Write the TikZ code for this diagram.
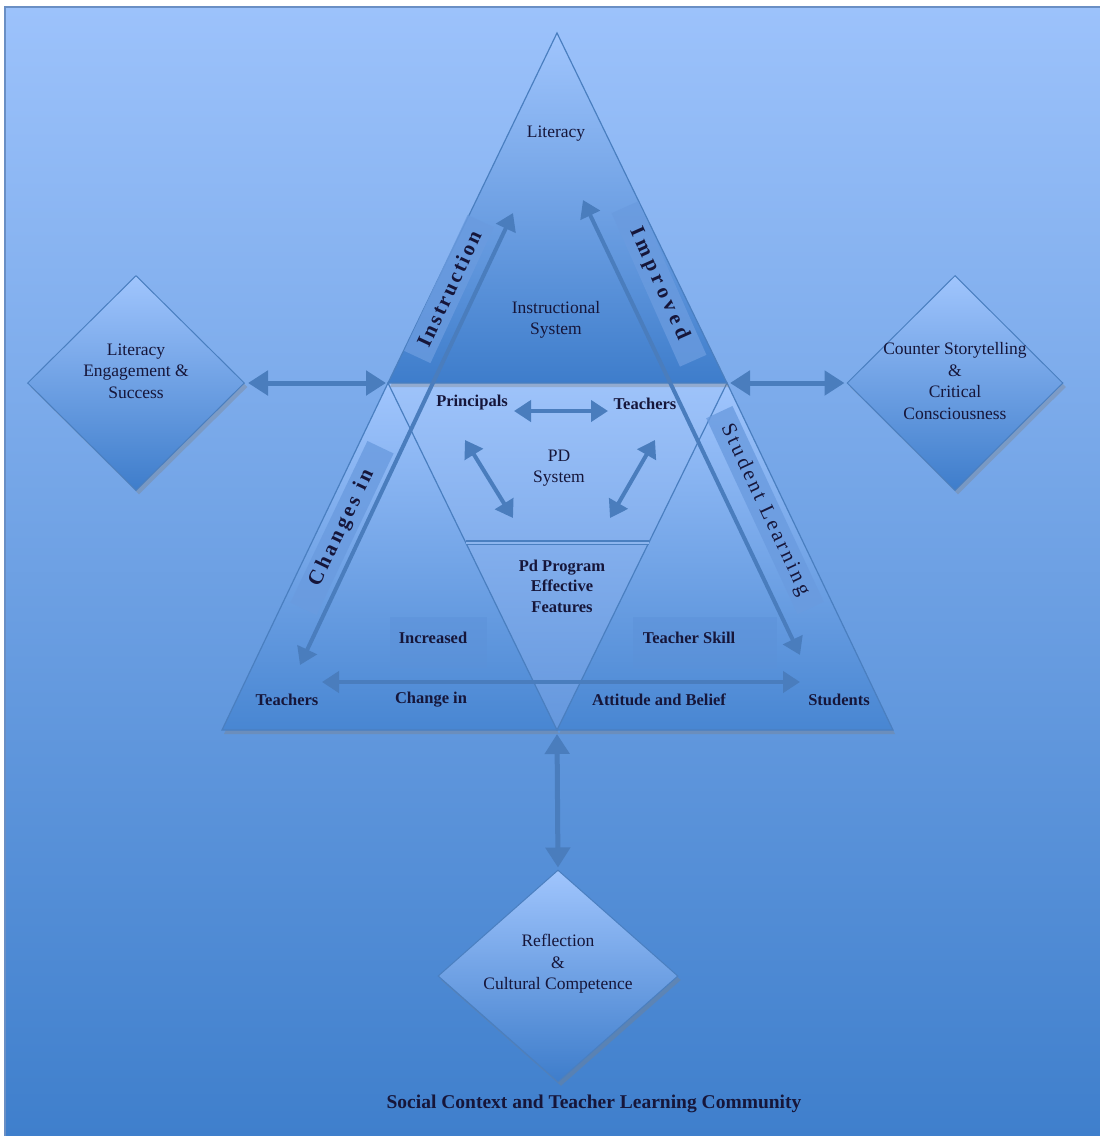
\documentclass[tikz,border=0pt]{standalone}
\usepackage{fontspec}
\setmainfont{Liberation Serif}
\usetikzlibrary{arrows.meta,shapes.geometric,shadows,calc}
\definecolor{bgtop}{HTML}{9CC2FB}
\definecolor{bgbot}{HTML}{3F7FCC}
\definecolor{bgedge}{HTML}{6A8FC4}
\definecolor{tritop}{HTML}{A0C5FD}
\definecolor{tridark}{HTML}{3E7DCB}
\definecolor{sidedark}{HTML}{4886D2}
\definecolor{midtop}{HTML}{9EC3FA}
\definecolor{midbot}{HTML}{6497DD}
\definecolor{edgec}{HTML}{4A7FC0}
\definecolor{arrc}{HTML}{4A7DBD}
\definecolor{inkc}{HTML}{16163A}
\definecolor{bandc}{HTML}{6A9BDF}
\definecolor{boxc}{HTML}{5C91D8}
\tikzset{
  tri/.style={draw=edgec, line width=1.2pt, top color=tritop, bottom color=#1,
    drop shadow={shadow xshift=2pt, shadow yshift=-4pt, opacity=0.35}},
  diam/.style={diamond, draw=edgec, line width=1pt, inner sep=0pt,
    top color=tritop, bottom color=tridark,
    minimum width=217pt, minimum height=215pt,
    drop shadow={shadow xshift=3pt, shadow yshift=-4pt, opacity=0.35}},
  dbl/.style={{Triangle[length=20pt,width=24pt]}-{Triangle[length=20pt,width=24pt]},
    line width=5pt, draw=arrc},
  dbls/.style={{Triangle[length=17pt,width=21pt]}-{Triangle[length=17pt,width=21pt]},
    line width=4pt, draw=arrc},
  txt/.style={font=\fontsize{17.5}{21.5}\selectfont, text=inkc, align=center},
  lbl/.style={font=\bfseries\fontsize{16.5}{20.5}\selectfont, text=inkc, align=center},
  band/.style={fill=bandc, fill opacity=0.8, text opacity=1, inner sep=0pt,
    minimum height=29pt, text=inkc},
  tag/.style={font=\bfseries\fontsize{21}{23}\selectfont\addfontfeature{LetterSpace=#1}},
  tagr/.style={font=\fontsize{21}{23}\selectfont\addfontfeature{LetterSpace=#1}},
  skillbox/.style={fill=boxc, fill opacity=0.45, text opacity=1, inner sep=0pt}
}
\begin{document}
\begin{tikzpicture}[x=1pt,y=-1pt]
  \useasboundingbox (0,0) rectangle (1100,1136);
  % background
  \shade[top color=bgtop, bottom color=bgbot] (5,7) rectangle (1100,1136);
  \draw[bgedge, line width=1.5pt] (5,1136) -- (5,7) -- (1100,7);

  % corners of the triangles
  \coordinate (apex) at (557,33);
  \coordinate (tl) at (388,383);
  \coordinate (tr) at (727,383);
  \coordinate (bl) at (222,730);
  \coordinate (bm) at (557,730);
  \coordinate (br) at (893,730);
  \coordinate (pdl) at ($(tl)!0.461!(bm)$);
  \coordinate (pdr) at ($(tr)!0.461!(bm)$);

  % PD region and the three triangles
  \shade[top color=midtop, bottom color=midbot] (tl) -- (tr) -- (bm) -- cycle;
  \path[tri=sidedark] (tl) -- (bl) -- (bm) -- cycle;
  \path[tri=sidedark] (tr) -- (bm) -- (br) -- cycle;
  \path[tri=tridark] (apex) -- (tl) -- (tr) -- cycle;
  \draw[edgec, line width=1.5pt, double=midtop!80!edgec, double distance=2pt] (pdl) -- (pdr);

  % label bands
  \node[band, tag=12, rotate=65, minimum width=150pt] (instr) at (449,289) {Instruction};
  \node[band, tag=22, rotate=-66, minimum width=168pt] (impr) at (659,284) {Improved};
  \node[band, tag=16, rotate=64.5, minimum width=179pt] (chg) at (342,528) {Changes in};
  \node[band, tagr=14, rotate=-65, minimum width=216pt] (stud) at (765,510) {Student Learning};
  \node[skillbox, minimum width=97pt, minimum height=51pt] (incbox) at (438,642) {};
  \node[skillbox, minimum width=144pt, minimum height=52pt] (skillb) at (705,643) {};

  % diamonds
  \node[diam] (lit) at (136,383) {};
  \node[diam, minimum width=216pt] (ccc) at (955,383) {};
  \node[diam, minimum width=240pt, minimum height=212pt] (refl) at (558,976) {};

  % texts
  \node[txt] (littxt) at ([yshift=12pt]lit.center) {Literacy\\Engagement \&\\Success};
  \node[txt] (ccctxt) at ([yshift=2pt]ccc.center) {Counter Storytelling\\\&\\Critical\\Consciousness};
  \node[txt] (refltxt) at ([yshift=12pt]refl.center) {Reflection\\\&\\Cultural Competence};
  \node[txt] (literacy) at (556,134) {Literacy};
  \node[txt] (instsys) at (556,320) {Instructional\\System};
  \node[txt] (pdsys) at (559,468) {PD\\System};
  \node[lbl] (prin) at (472,403) {Principals};
  \node[lbl] (tchpd) at (645,404) {Teachers};
  \node[lbl] (pdprog) at (562,586) {Pd Program\\Effective\\Features};
  \node[lbl] (incr) at (433,638) {Increased};
  \node[lbl] (skill) at (689,638) {Teacher Skill};
  \node[lbl] (tch) at (287,700) {Teachers};
  \node[lbl] (chgin) at (431,700) {Change in};
  \node[lbl] (att) at (659,700) {Attitude and Belief};
  \node[lbl] (stu) at (839,700) {Students};
  \node[lbl, font=\bfseries\fontsize{19.5}{22}\selectfont] (title) at (594,1104)
    {Social Context and Teacher Learning Community};

  % arrow ends
  \coordinate (instrtip) at (513,213);
  \coordinate (chgtip) at (300,665);
  \coordinate (imprtip) at (583,200);
  \coordinate (studtip) at (800,655);
  \coordinate (tchtip) at (322,682);
  \coordinate (stutip) at (800,682);
  \coordinate (prinr) at (514,411);
  \coordinate (tchl) at (608,411);
  \coordinate (prinlo) at (513,518);
  \coordinate (prinhi) at (465,440);
  \coordinate (tchhi) at (655,440);
  \coordinate (tchlo) at (610,518);

  % arrows
  \begin{scope}[dbl]
    \draw[shorten <=3pt, shorten >=2pt] (lit.east) -- (tl);
    \draw[shorten <=3pt, shorten >=2pt] (tr) -- (ccc.west);
    \draw[shorten <=4pt, shorten >=2pt] (bm) -- (refl.north);
  \end{scope}
  \begin{scope}[dbls]
    \draw (chgtip) -- (instrtip);
    \draw (imprtip) -- (studtip);
    \draw (tchtip) -- (stutip);
    \draw (prinr) -- (tchl);
    \draw (prinhi) -- (prinlo);
    \draw (tchhi) -- (tchlo);
  \end{scope}
\end{tikzpicture}
\end{document}
